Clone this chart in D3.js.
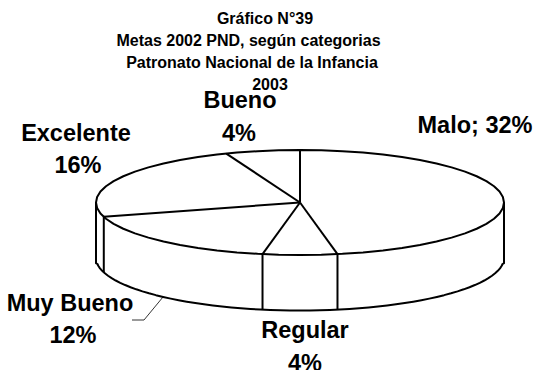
<!DOCTYPE html>
<html>
<head>
<meta charset="utf-8">
<script src="https://cdn.jsdelivr.net/npm/d3@7"></script>
<style>
    body { margin: 0; background: #fff; overflow: hidden; }
    text { font-family: "Liberation Sans", Arial, sans-serif; font-weight: bold; fill: #000; }
</style>
</head>
<body>
<svg class="main" width="534" height="370"></svg>
<script>
// slices run clockwise from 12 o'clock, the shares only add up to 68 in the source
const categories = ['Malo', 'Regular', 'Muy Bueno', 'Excelente', 'Bueno'],
    values = [32, 4, 12, 16, 4],
    titleLines = ['Gráfico N°39', 'Metas 2002 PND, según categorias', 'Patronato Nacional de la Infancia', '2003'];

const cx = 300,
    cy = 202.5,
    rx = 204,
    ry = 52.5,
    depth = 55.5,
    rimInset = 0.1,
    labelSize = 23.5,
    titleSize = 16;

const svg = d3.select('svg.main');

const slices = d3.pie().sort(null).value(d => d)(values);

const px = a => cx + rx * Math.sin(a),
    py = a => cy - ry * Math.cos(a);

const line = d3.line().curve(d3.curveLinear);

function rimPoints(a0, a1, dy) {
    return d3.range(0, 61).map(i => {
        const a = a0 + (a1 - a0) * i / 60;
        return [px(a), py(a) + dy];
    });
}

function stroke(points, w) {
    return svg.append('path')
        .attr('d', line(points))
        .attr('fill', 'none')
        .attr('stroke', '#000')
        .attr('stroke-width', w || 2)
        .attr('stroke-linejoin', 'round');
}

// top ellipse
stroke(rimPoints(0, Math.PI * 2, 0));

// front wall, lower rim stops a bit short of the silhouette like the original
const rimStart = Math.PI / 2 + rimInset,
    rimEnd = Math.PI * 1.5 - rimInset;

stroke(rimPoints(rimStart, rimEnd, depth));

stroke([[px(Math.PI / 2), py(Math.PI / 2)], [px(Math.PI / 2), py(rimStart) + depth], [px(rimStart), py(rimStart) + depth]]);
stroke([[px(Math.PI * 1.5), py(Math.PI * 1.5)], [px(Math.PI * 1.5), py(rimEnd) + depth], [px(rimEnd), py(rimEnd) + depth]]);

// spokes, and wall edges for those on the front half
slices.forEach(s => {
    const a = s.startAngle;
    stroke([[cx, cy], [px(a), py(a)]]);
    if (a > Math.PI / 2 && a < Math.PI * 1.5) {
        stroke([[px(a), py(a)], [px(a), py(a) + depth]]);
    }
});

// leader for Muy Bueno
stroke([[163, 297], [144, 320], [132, 320]], 0.8);

const titleX = [265, 248.5, 252, 270],
    titleY = [24, 46, 68, 90];

svg.selectAll('text.title')
    .data(titleLines)
    .join('text')
    .attr('class', 'title')
    .attr('x', (d, i) => titleX[i])
    .attr('y', (d, i) => titleY[i])
    .attr('text-anchor', 'middle')
    .attr('font-size', titleSize)
    .text(d => d);

const labelX = [[475], [305, 305], [70, 73], [76, 78], [240, 239]],
    labelY = [[133], [338, 371], [311, 343], [141, 173], [108, 141]];

categories.forEach((c, i) => {
    const lines = c === 'Malo' ? [c + '; ' + values[i] + '%'] : [c, values[i] + '%'];
    lines.forEach((t, j) => {
        svg.append('text')
            .attr('class', 'label')
            .attr('x', labelX[i][j])
            .attr('y', labelY[i][j])
            .attr('text-anchor', 'middle')
            .attr('font-size', labelSize)
            .text(t);
    });
});
</script>
</body>
</html>
